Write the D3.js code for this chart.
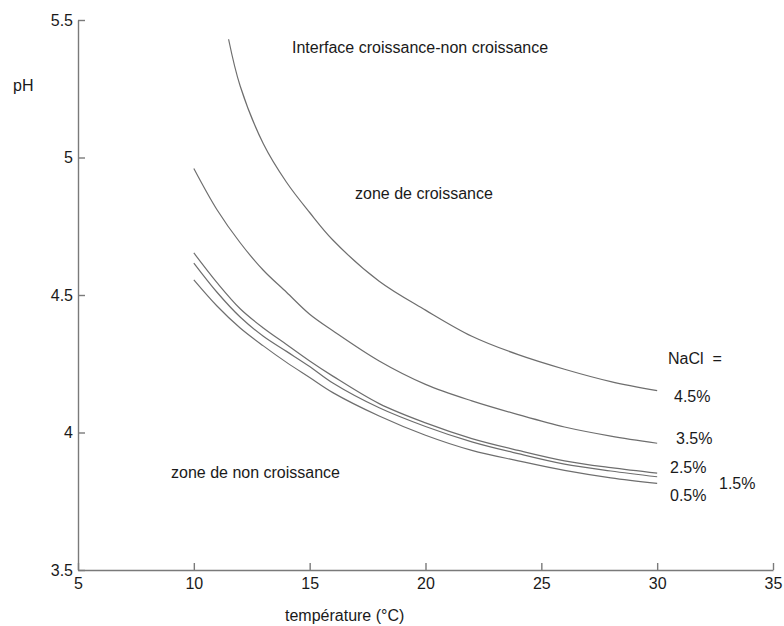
<!DOCTYPE html>
<html>
<head>
<meta charset="utf-8">
<script src="https://cdn.jsdelivr.net/npm/d3@7"></script>
<style>
  body { margin: 0; background: #fff; }
  svg { display: block; font-family: "Liberation Sans", Arial, sans-serif; }
  .axis path, .axis line { stroke: #7a7a7a; stroke-width: 1.4; }
  .axis text { font-size: 16px; fill: #1a1a1a; }
  .lbl { font-size: 16px; fill: #1a1a1a; }
</style>
</head>
<body>
<div id="chart"></div>
<script>
const W = 784, H = 626;
const margin = { left: 78, right: 11, top: 20, bottom: 56 };

// temperature (°C) sample points, one list per curve
const tempsLow = [10, 11, 12, 13, 14, 15, 16, 18, 20, 22, 24, 26, 28, 30];
const temps45 = [11.5, 12, 13, 14, 15, 16, 18, 20, 22, 24, 26, 28, 30];

// pH at the growth / no-growth interface for each NaCl level
const ph05 = [4.555, 4.46, 4.38, 4.315, 4.255, 4.2, 4.145, 4.06, 3.99, 3.935, 3.897, 3.862, 3.835, 3.815];
const ph15 = [4.616, 4.51, 4.42, 4.35, 4.295, 4.24, 4.18, 4.09, 4.022, 3.966, 3.923, 3.885, 3.86, 3.839];
const ph25 = [4.653, 4.545, 4.45, 4.38, 4.32, 4.26, 4.205, 4.105, 4.035, 3.978, 3.935, 3.897, 3.872, 3.852];
const ph35 = [4.96, 4.81, 4.69, 4.59, 4.51, 4.43, 4.37, 4.26, 4.175, 4.115, 4.065, 4.02, 3.987, 3.961];
const ph45 = [5.43, 5.26, 5.05, 4.91, 4.8, 4.7, 4.55, 4.445, 4.35, 4.283, 4.23, 4.185, 4.152];

const xTicks = [5, 10, 15, 20, 25, 30, 35];
const yTicks = [3.5, 4, 4.5, 5, 5.5];

const curves = [
  { name: "0.5%", t: tempsLow, ph: ph05 },
  { name: "1.5%", t: tempsLow, ph: ph15 },
  { name: "2.5%", t: tempsLow, ph: ph25 },
  { name: "3.5%", t: tempsLow, ph: ph35 },
  { name: "4.5%", t: temps45, ph: ph45 },
];

// curve end labels: [text, x, y]
const endLabels = [
  ["NaCl  =", 668, 358],
  ["4.5%", 674, 396],
  ["3.5%", 676, 438],
  ["2.5%", 670, 467],
  ["1.5%", 719, 483],
  ["0.5%", 670, 495],
];

const svg = d3.select("#chart").append("svg").attr("width", W).attr("height", H);

const x = d3.scaleLinear().domain([5, 35]).range([margin.left, W - margin.right]);
const y = d3.scaleLinear().domain([3.5, 5.5]).range([H - margin.bottom, margin.top]);

svg.append("g")
  .attr("class", "axis")
  .attr("transform", `translate(0,${H - margin.bottom})`)
  .call(d3.axisBottom(x).tickValues(xTicks).tickSize(-7).tickSizeOuter(0).tickPadding(8).tickFormat(d => d))
  .call(g => g.selectAll("text").attr("dy", "0.71em"));

svg.append("g")
  .attr("class", "axis")
  .attr("transform", `translate(${margin.left},0)`)
  .call(d3.axisLeft(y).tickValues(yTicks).tickSize(-7).tickSizeOuter(0).tickPadding(5).tickFormat(d => d));

svg.selectAll(".axis text").attr("font-family", null);

const line = d3.line()
  .x(d => x(d[0]))
  .y(d => y(d[1]))
  .curve(d3.curveCatmullRom.alpha(0.5));

svg.append("g")
  .selectAll("path")
  .data(curves)
  .join("path")
  .attr("fill", "none")
  .attr("stroke", "#6e6e6e")
  .attr("stroke-width", 1.2)
  .attr("d", c => line(c.t.map((t, i) => [t, c.ph[i]])));

svg.append("g")
  .selectAll("text")
  .data(endLabels)
  .join("text")
  .attr("class", "lbl")
  .attr("x", d => d[1])
  .attr("y", d => d[2])
  .attr("dy", "0.35em")
  .style("white-space", "pre")
  .text(d => d[0]);

svg.append("text").attr("class", "lbl").attr("x", 13).attr("y", 85).attr("dy", "0.35em").text("pH");
svg.append("text").attr("class", "lbl").attr("x", 292).attr("y", 47).attr("dy", "0.35em")
  .text("Interface croissance-non croissance");
svg.append("text").attr("class", "lbl").attr("x", 355).attr("y", 193).attr("dy", "0.35em")
  .text("zone de croissance");
svg.append("text").attr("class", "lbl").attr("x", 171).attr("y", 472).attr("dy", "0.35em")
  .text("zone de non croissance");
svg.append("text").attr("class", "lbl").attr("x", 285).attr("y", 615).attr("dy", "0.35em")
  .text("température (°C)");
</script>
</body>
</html>
